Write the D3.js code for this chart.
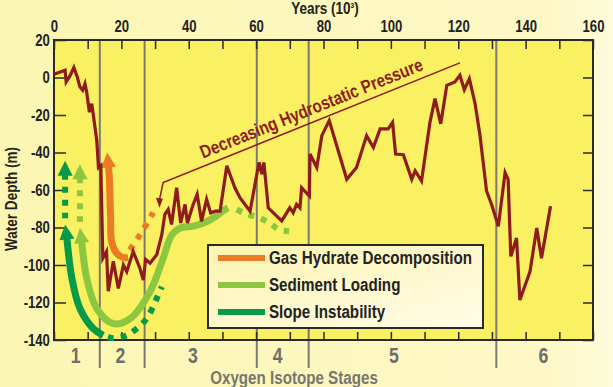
<html>
  <head>
    <meta charset="utf-8" />
    <script src="https://d3js.org/d3.v7.min.js"></script>
    <style>
      body { margin: 0; background: #fdf8c4; }
      text {
        font-family: "Liberation Sans", Arial, sans-serif;
        font-weight: bold;
      }
    </style>
  </head>
  <body>
    <svg id="chart" width="613" height="387"></svg>
    <script>
      // sea level curve (years in 10^3, water depth in m)
      const seaYears = [0, 3.3, 3.6, 4.7, 5.9, 6.9, 7.7, 8.5, 9.2, 9.7, 10.5, 11.2, 11.7, 12.7, 13.2, 13.9,
        14.5, 15.6, 16.1, 17.6, 19.1, 20.6, 21.6, 23.5, 25.5, 26.5, 27.2, 28.5, 30.5, 32, 32.9, 33.9,
        34.9, 36.4, 37.6, 38.9, 39.6, 41.3, 42.5, 43.8, 45.3, 46.5, 47.8, 49.3, 51.3, 53.7, 55.2, 58.2,
        60.2, 60.9, 61.7, 62.3, 63.6, 67.6, 70, 71, 72, 73, 73.5, 75.8, 76, 78, 79.5, 81.7,
        86.9, 89.8, 92.8, 94.8, 96.8, 99.2, 100.5, 101.4, 103.7, 106.2, 107.2, 109.1, 111.6, 113.1, 114.8, 116.6,
        119, 120.5, 121.8, 123.3, 125, 126.4, 128.4, 129.9, 131.9, 133.9, 134.8, 135.6, 137.3, 138.3, 141.3, 143.3,
        144.7, 147.4];
      const seaDepths = [1.7, 3.9, -2.4, 0.7, 5.3, 0.3, -5, -6.8, -3.3, -7.8, -18.5, -14, -20.3, -33.7, -48, -47,
        -96.4, -92.8, -114, -98, -112.5, -100, -103.5, -92.8, -101.7, -108, -97, -99, -94.5, -83.8, -73, -70.4,
        -78.4, -58.8, -77.6, -67.7, -77.6, -67.7, -62.3, -76.7, -65, -72.2, -71.3, -71.3, -47.1, -58.8, -64.1, -71.3,
        -51.6, -45.3, -51.6, -45.3, -69.5, -76.5, -69.5, -72.2, -67.7, -69.5, -58.8, -63.2, -40.8, -48, -31, -23,
        -54.3, -48, -31, -37.3, -27.4, -27.4, -23.9, -40.8, -41.2, -54.3, -49.8, -55.2, -23.9, -11.3, -24.7, -4.2,
        -2.4, 1.2, -6.5, -0.6, -14, -30.1, -60.5, -67.7, -79.3, -50.7, -54.3, -95.4, -85.6, -118.7, -103.5, -80.3,
        -96.4, -68.6];

      // oxygen isotope stages
      const stageBounds = [13.6, 26.9, 60.2, 75.6, 131.3];
      const stageNames = ["1", "2", "3", "4", "5", "6"];
      const stageLabelYears = [6.4, 19.7, 41.2, 66.4, 100.9, 145.3];

      // axes
      const yearTicks = d3.range(0, 161, 10);
      const depthTicks = [20, 0, -20, -40, -60, -80, -100, -120, -140];

      // process arrows [year, depth]
      const hydrateSolid = [[15.8, -40], [16.4, -52.5], [16.8, -74.9], [17.1, -87.4], [18.6, -93.7], [20.6, -96], [22, -96]];
      const hydrateDotted = [[22.5, -92], [25.5, -84], [29.5, -72]];
      const sedimentSolid = [[7.7, -80.3], [8.2, -87.4], [9.7, -107], [12.7, -123.2], [17.6, -131.3], [22.6, -128.6],
        [28.5, -114.2], [32.4, -96.4], [34.9, -84.2], [37.4, -80.3], [41.3, -79.3], [44.3, -77.6], [47.3, -74.9],
        [50.3, -70.9], [51.7, -69.5]];
      const sedimentDotted = [[54.2, -70.4], [57.2, -72.9], [60.8, -74.7], [64.3, -78], [66.8, -81.1], [69.8, -82]];
      const sedimentRise = [[7.7, -46.2], [7.7, -77]];
      const slopeSolid = [[3.3, -78.4], [3.8, -85.6], [5.3, -107], [7.7, -123.2], [11.7, -134], [14.6, -137.5]];
      const slopeDotted = [[16, -138.5], [17.6, -139], [21.6, -137.5], [24.5, -134], [27.5, -128.6], [30.5, -117.8], [32, -111.6]];
      const slopeRise = [[3.3, -44.4], [3.3, -75]];

      // annotation
      const annoText = "Decreasing Hydrostatic Pressure";
      const annoStart = [32.4, -56];
      const annoTip = [31.3, -69.5];
      const annoEnd = [120.5, 7.8];

      // legend
      const legendNames = ["Gas Hydrate Decomposition", "Sediment Loading", "Slope Instability"];

      const colors = {
        sea: "#8e1c1f",
        hydrate: "#ec7c23",
        sediment: "#8dc63f",
        slope: "#079a48",
      };
      const legendColors = [colors.hydrate, colors.sediment, colors.slope];

      const svg = d3.select("#chart");
      const margin = { top: 40, right: 20, bottom: 47, left: 54 };
      const width = +svg.attr("width");
      const height = +svg.attr("height");
      const x0 = margin.left, x1 = width - margin.right;
      const y0 = margin.top, y1 = height - margin.bottom;
      const sx = 0.82; // squeeze text horizontally (narrow face)

      const defs = svg.append("defs");
      const bg = defs.append("linearGradient").attr("id", "bg").attr("x1", 0).attr("x2", 1).attr("y1", 0).attr("y2", 0);
      bg.append("stop").attr("offset", "0%").attr("stop-color", "#fcf6b4");
      bg.append("stop").attr("offset", "90%").attr("stop-color", "#fdf8c6");
      bg.append("stop").attr("offset", "100%").attr("stop-color", "#fefbdc");
      const lg = defs.append("linearGradient").attr("id", "lg").attr("x1", 0).attr("x2", 1).attr("y1", 0).attr("y2", 1);
      lg.append("stop").attr("offset", "0%").attr("stop-color", "#fcf4b0");
      lg.append("stop").attr("offset", "100%").attr("stop-color", "#fffce8");

      svg.append("rect").attr("width", width).attr("height", height).attr("fill", "url(#bg)");

      const x = d3.scaleLinear().domain([0, 160]).range([x0, x1]);
      const y = d3.scaleLinear().domain([20, -140]).range([y0, y1]);

      // squeezed text at a point
      const label = (g, px_, py_, str, size, fill, rot) =>
        g.append("text")
          .attr("transform", `translate(${px_},${py_})` + (rot ? ` rotate(${rot})` : "") + ` scale(${sx},1)`)
          .attr("text-anchor", "middle")
          .attr("font-size", size)
          .attr("fill", fill)
          .text(str);

      // plot area
      svg.append("rect")
        .attr("x", x0).attr("y", y0)
        .attr("width", x1 - x0).attr("height", y1 - y0)
        .attr("fill", "#f9f062");

      // stage boundaries
      svg.selectAll("line.stage")
        .data(stageBounds)
        .join("line")
        .attr("class", "stage")
        .attr("x1", (d) => x(d)).attr("x2", (d) => x(d))
        .attr("y1", y0).attr("y2", y1 + 28)
        .attr("stroke", "#7a7a72")
        .attr("stroke-width", 2);

      stageNames.forEach((d, i) => label(svg, x(stageLabelYears[i]), 363, d, 21.5, "#6e6e6a"));
      label(svg, 294, 384, "Oxygen Isotope Stages", 18.5, "#77766f");

      // axes
      const styleAxis = (g) => {
        g.select(".domain").remove();
        g.selectAll(".tick line").attr("stroke", "#2a2a2a").attr("stroke-width", 1.5);
        g.selectAll(".tick text").attr("fill", "#222").attr("font-size", 16)
          .attr("transform", `scale(${sx},1)`);
        g.attr("font-family", null);
      };

      svg.append("g")
        .attr("transform", `translate(0,${y0})`)
        .call(d3.axisTop(x).tickValues(yearTicks).tickSize(-9).tickPadding(8)
          .tickFormat((d) => (d % 20 === 0 ? String(d) : "")))
        .call(styleAxis);

      svg.append("g")
        .attr("transform", `translate(0,${y1})`)
        .call(d3.axisBottom(x).tickValues(yearTicks).tickSize(-8).tickFormat(""))
        .call(styleAxis);

      svg.append("g")
        .attr("transform", `translate(${x0},0)`)
        .call(d3.axisLeft(y).tickValues(depthTicks).tickSize(-12).tickPadding(5)
          .tickFormat((d) => String(d)))
        .call(styleAxis);

      svg.append("g")
        .attr("transform", `translate(${x1},0)`)
        .call(d3.axisRight(y).tickValues(depthTicks).tickSize(-10).tickFormat(""))
        .call(styleAxis);

      svg.append("rect")
        .attr("x", x0).attr("y", y0)
        .attr("width", x1 - x0).attr("height", y1 - y0)
        .attr("fill", "none")
        .attr("stroke", "#2a2a2a")
        .attr("stroke-width", 2);

      // axis titles
      const ttl = label(svg, 325, 14, "", 16.5, "#222");
      ttl.append("tspan").text("Years (10");
      ttl.append("tspan").attr("font-size", 8).attr("dy", -6).text("3");
      ttl.append("tspan").attr("dy", 6).text(")");

      label(svg, 17, 199, "Water Depth (m)", 16.5, "#222", -90);

      // process arrows
      const line = d3.line().curve(d3.curveCatmullRom);
      const px = (pts) => pts.map((d) => [x(d[0]), y(d[1])]);

      const drawArrow = (pts, color, dashed, head) => {
        let p = px(pts);
        if (head) {
          const tip = p[0];
          const dx = p[0][0] - p[1][0], dy = p[0][1] - p[1][1];
          const len = Math.hypot(dx, dy);
          const ux = dx / len, uy = dy / len;
          const hl = 15, hw = 7.5;
          const base = [tip[0] - ux * hl, tip[1] - uy * hl];
          p = [[base[0] + ux * 2, base[1] + uy * 2]].concat(p.slice(1));
          svg.append("path")
            .attr("d", `M${tip[0]},${tip[1]}L${base[0] - uy * hw},${base[1] + ux * hw}L${base[0] + uy * hw},${base[1] - ux * hw}Z`)
            .attr("fill", color);
        }
        svg.append("path")
          .attr("d", line(p))
          .attr("fill", "none")
          .attr("stroke", color)
          .attr("stroke-width", dashed ? 6 : 7)
          .attr("stroke-dasharray", dashed ? "6,7" : null)
          .attr("stroke-linecap", "butt");
      };

      drawArrow(slopeRise, colors.slope, true, true);
      drawArrow(slopeSolid, colors.slope, false, true);
      drawArrow(slopeDotted, colors.slope, true, false);
      drawArrow(sedimentRise, colors.sediment, true, true);
      drawArrow(sedimentSolid, colors.sediment, false, true);
      drawArrow(sedimentDotted, colors.sediment, true, false);
      drawArrow(hydrateSolid, colors.hydrate, false, true);
      drawArrow(hydrateDotted, colors.hydrate, true, false);

      // sea level curve
      svg.append("path")
        .attr("d", d3.line().x((d, i) => x(seaYears[i])).y((d) => y(d))(seaDepths))
        .attr("fill", "none")
        .attr("stroke", colors.sea)
        .attr("stroke-width", 3.2)
        .attr("stroke-linejoin", "miter");

      // annotation
      const aS = [x(annoStart[0]), y(annoStart[1])];
      const aT = [x(annoTip[0]), y(annoTip[1])];
      const aE = [x(annoEnd[0]), y(annoEnd[1])];
      svg.append("path")
        .attr("d", `M${aE[0]},${aE[1]}L${aS[0]},${aS[1]}L${aT[0]},${aT[1] - 8}`)
        .attr("fill", "none")
        .attr("stroke", colors.sea)
        .attr("stroke-width", 1.5);
      svg.append("path")
        .attr("d", `M${aT[0]},${aT[1]}L${aT[0] - 3.5},${aT[1] - 10}L${aT[0] + 3.5},${aT[1] - 9}Z`)
        .attr("fill", colors.sea);

      const ang = Math.atan2(aE[1] - aS[1], aE[0] - aS[0]);
      const t = 0.516;
      const mx = aS[0] + (aE[0] - aS[0]) * t + Math.sin(ang) * 7;
      const my = aS[1] + (aE[1] - aS[1]) * t - Math.cos(ang) * 7;
      label(svg, mx, my, annoText, 18.5, colors.sea, (ang * 180) / Math.PI);

      // legend
      const legend = svg.append("g").attr("transform", "translate(208,245)");
      legend.append("rect")
        .attr("width", 275).attr("height", 83)
        .attr("fill", "url(#lg)")
        .attr("stroke", "#2a2a2a")
        .attr("stroke-width", 2);
      legend.selectAll("line")
        .data(legendNames)
        .join("line")
        .attr("x1", 10).attr("x2", 57)
        .attr("y1", (d, i) => 13 + i * 27).attr("y2", (d, i) => 13 + i * 27)
        .attr("stroke", (d, i) => legendColors[i])
        .attr("stroke-width", 6);
      legend.selectAll("text")
        .data(legendNames)
        .join("text")
        .attr("transform", (d, i) => `translate(61,${13 + i * 27}) scale(${sx},1)`)
        .attr("dy", "0.35em")
        .attr("font-size", 18.5)
        .attr("fill", "#222")
        .text((d) => d);
    </script>
  </body>
</html>
